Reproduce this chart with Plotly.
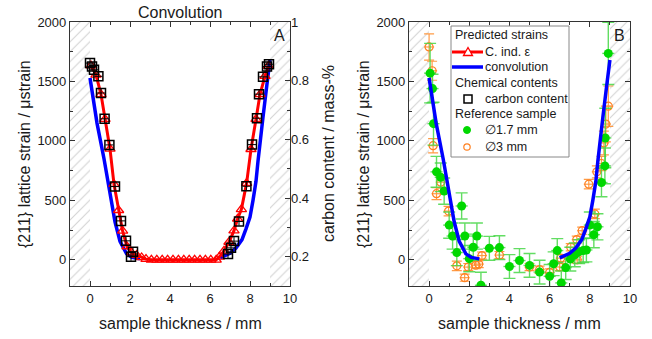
import plotly.graph_objects as go

# ---------------- data ----------------
# Predicted strains: carbon-induced strain (red triangles)
cind_x = [0.05, 0.3, 0.55, 0.75, 1.0, 1.2, 1.43, 1.63, 1.85, 2.08, 2.33, 2.58, 2.8,
          3.07, 3.34, 3.61, 3.88, 4.15, 4.42, 4.69, 4.96, 5.23, 5.5, 5.77, 6.04, 6.31,
          6.47, 6.7, 6.95, 7.2, 7.38, 7.57, 7.83, 8.05, 8.3, 8.5, 8.75, 8.92]
cind_y = [1633, 1555, 1392, 1183, 933, 636, 417, 243, 112, 60, 40, 20, 6,
          0, 0, 0, 0, 0, 0, 0, 0, 0, 0, 0, 0, 0,
          25, 75, 150, 245, 345, 425, 645, 930, 1183, 1392, 1545, 1630]

# Predicted strains: convolution (blue line, two branches)
conv_x = [0.0, 0.35, 0.7, 1.0, 1.25, 1.5, 1.83, 2.1, 2.5, None,
          6.5, 7.0, 7.3, 7.6, 7.8, 8.0, 8.15, 8.3, 8.4, 8.5, 8.65, 8.85, 9.0]
conv_y = [1530, 1150, 850, 580, 320, 155, 50, 20, 8, None,
          17, 55, 100, 170, 260, 360, 500, 660, 830, 960, 1200, 1480, 1680]

# Chemical contents: carbon content (mass-%)
carbon_x = [0.0, 0.1, 0.2, 0.42, 0.55, 0.73, 0.97, 1.25, 1.55, 1.8, 2.05, 2.15,
            6.9, 7.05, 7.2, 7.45, 7.82, 8.1, 8.35, 8.45, 8.65, 8.85, 8.95]
carbon_c = [0.860, 0.848, 0.837, 0.815, 0.758, 0.670, 0.581, 0.439, 0.322, 0.254, 0.200, 0.217,
            0.209, 0.230, 0.253, 0.320, 0.440, 0.582, 0.672, 0.754, 0.813, 0.848, 0.856]

# Reference sample, 1.7 mm gauge
g_x = [0.05, 0.17, 0.22, 0.37, 0.58, 0.75, 1.0, 1.17, 1.38, 1.62, 1.78, 2.0, 2.2, 2.38,
       2.58, 3.0, 3.5, 4.0, 4.5, 5.0, 5.5, 6.0, 6.2, 6.38, 6.58, 6.8, 7.03, 7.25, 7.47,
       7.67, 7.83, 8.0, 8.2, 8.38, 8.58, 8.75, 8.77, 8.92]
g_y = [1570, 1440, 1145, 740, 694, 578, 292, 200, 61, 453, 200, 10, 106, 200,
       -214, 97, 103, -56, -6, -47, -103, -139, -33, 78, -194, -65, 6, 42, 69,
       78, 83, 292, 212, 278, 650, 790, 1025, 1736]
g_err = [250, 120, 180, 130, 120, 110, 110, 110, 110, 110, 110, 110, 110, 110,
         110, 100, 100, 100, 100, 100, 100, 100, 100, 100, 100, 100, 100, 100, 100,
         100, 100, 110, 110, 110, 120, 150, 250, 262]

# Reference sample, 3 mm gauge
o_x = [0.0, 0.15, 0.2, 0.37, 0.58, 0.97, 1.38, 1.77, 1.95, 2.33, 2.47, 2.63, 3.5,
       5.0, 5.5, 6.0, 6.5, 6.55, 7.05, 7.35, 7.37, 7.62, 7.95, 8.25, 8.35, 8.58, 8.7, 8.8, 8.92]
o_y = [1790, 1590, 960, 556, 653, 410, -50, -150, -61, -45, -36, 36, 40,
       -61, -83, -106, -60, 14, 106, 170, 0, 245, 636, 386, 740, 810, 983, 1142, 1292]
o_err = [110, 80, 60, 50, 50, 40, 40, 30, 30, 30, 30, 30, 30,
         30, 30, 30, 30, 30, 30, 30, 30, 30, 40, 40, 50, 60, 100, 150, 170]

# axis ticks
x_ticks = [0, 2, 4, 6, 8, 10]
y_ticks = [0, 500, 1000, 1500, 2000]
c_ticks = [0.2, 0.4, 0.6, 0.8, 1.0]
c_ticktext = ["0.2", "0.4", "0.6", "0.8", "1"]

# legend texts
legend_rows = [
    ("title", "Predicted strains"),
    ("cind", "C. ind. ε"),
    ("conv", "convolution"),
    ("title", "Chemical contents"),
    ("carbon", "carbon content"),
    ("title", "Reference sample"),
    ("g", "∅1.7 mm"),
    ("o", "∅3 mm"),
]

# layout constants
X_RANGE = [-1, 10]
Y_RANGE = [-220, 2000]
C_RANGE = [0.1, 1.0]
HATCH_X = [-0.5, 9.5]   # centres of the shaded (outside-sample) zones, width 1 mm

FONT = "Arial, Liberation Sans, sans-serif"
TXT = "#1a1a1a"
RED = "#ff0000"
BLUE = "#0000ff"
GREEN = "#00d800"
GREEN_ERR = "rgba(70,215,70,0.85)"
ORANGE = "#ff8020"
ORANGE_ERR = "rgba(255,150,60,0.95)"

fig = go.Figure()

# hatched zones
for xa, ya in (("x", "y"), ("x2", "y3")):
    fig.add_trace(go.Bar(
        x=HATCH_X, y=[Y_RANGE[1] - Y_RANGE[0]] * 2, base=[Y_RANGE[0]] * 2, width=1.0,
        xaxis=xa, yaxis=ya, showlegend=False, hoverinfo="skip",
        marker=dict(color="white", line=dict(width=0),
                    pattern=dict(shape="/", fgcolor="#a8a8a8", bgcolor="white",
                                 size=7, solidity=0.16))))

# ---- left panel ----
fig.add_trace(go.Scatter(
    x=conv_x, y=conv_y, mode="lines", name="convolution",
    line=dict(color=BLUE, width=3.5), xaxis="x", yaxis="y", showlegend=False))

fig.add_trace(go.Scatter(
    x=carbon_x, y=carbon_c, mode="markers", name="carbon content",
    marker=dict(symbol="square-open", size=9, color="black", line=dict(width=1.5)),
    error_x=dict(type="constant", value=0.2, thickness=1, width=0, color="black"),
    error_y=dict(type="constant", value=0.014, thickness=1, width=0, color="black"),
    xaxis="x", yaxis="y2", showlegend=False))

fig.add_trace(go.Scatter(
    x=cind_x, y=cind_y, mode="lines+markers", name="C. ind. ε",
    line=dict(color=RED, width=3),
    marker=dict(symbol="triangle-up-open", size=9, color=RED, line=dict(width=1.3)),
    xaxis="x", yaxis="y", showlegend=False))

# ---- right panel ----
fig.add_trace(go.Scatter(
    x=o_x, y=o_y, mode="markers", name="∅3 mm",
    marker=dict(symbol="circle-open", size=8, color=ORANGE, line=dict(width=1.2)),
    error_y=dict(type="data", array=o_err, thickness=1.2, width=5, color=ORANGE_ERR),
    error_x=dict(type="constant", value=0.25, thickness=1.2, width=0, color=ORANGE_ERR),
    xaxis="x2", yaxis="y3", showlegend=False))

fig.add_trace(go.Scatter(
    x=g_x, y=g_y, mode="markers", name="∅1.7 mm",
    marker=dict(symbol="circle", size=9, color=GREEN),
    error_y=dict(type="data", array=g_err, thickness=1.4, width=6, color=GREEN_ERR),
    error_x=dict(type="constant", value=0.3, thickness=1.4, width=0, color=GREEN_ERR),
    xaxis="x2", yaxis="y3", showlegend=False))

fig.add_trace(go.Scatter(
    x=conv_x, y=conv_y, mode="lines", name="convolution",
    line=dict(color=BLUE, width=3.5), xaxis="x2", yaxis="y3", showlegend=False))

W, H = 652, 339
L1, R1 = 70, 290
L2, R2 = 409, 630
TOP, BOT = 22, 286

def px(v):
    return v / W

def py(v):
    return (H - v) / H

tickfont = dict(family=FONT, size=13, color=TXT)
common_x = dict(range=X_RANGE, tickvals=x_ticks, ticks="inside", ticklen=5,
                showline=True, linecolor="#333", linewidth=1.2, mirror="ticks",
                showgrid=False, zeroline=False, tickfont=tickfont, tickcolor="#333",
                automargin=False,
                minor=dict(ticks="inside", dtick=1, ticklen=3, tickcolor="#333"))
common_y = dict(range=Y_RANGE, tickvals=y_ticks, ticks="inside", ticklen=5,
                showline=True, linecolor="#333", linewidth=1.2,
                showgrid=False, zeroline=False, tickfont=tickfont, tickcolor="#333",
                automargin=False,
                minor=dict(ticks="inside", tickvals=[-250, 250, 750, 1250, 1750],
                           ticklen=3, tickcolor="#333"))

# ---- hand-drawn legend (box, keys, texts) in paper/pixel space ----
LEG_L, LEG_R, LEG_T, LEG_B = 451, 569, 26, 157
ROW_Y = [35, 52, 67, 83, 99, 114, 130, 147]
KEY_X0, KEY_X1, KEY_C = 452, 483, 468
TITLE_X, ITEM_X = 453, 483

shapes = [dict(type="rect", xref="paper", yref="paper", x0=px(LEG_L), x1=px(LEG_R),
               y0=py(LEG_B), y1=py(LEG_T), line=dict(color="#888", width=1),
               fillcolor="white", layer="above")]
annotations = []
for (kind, label), ry in zip(legend_rows, ROW_Y):
    is_title = kind == "title"
    annotations.append(dict(text=label, x=px(TITLE_X if is_title else ITEM_X), y=py(ry),
                            xref="paper", yref="paper", showarrow=False, xanchor="left",
                            yanchor="middle", font=dict(size=12.5, color=TXT)))
    if kind in ("cind", "conv"):
        shapes.append(dict(type="line", xref="paper", yref="paper", x0=px(KEY_X0), x1=px(KEY_X1),
                           y0=py(ry), y1=py(ry), layer="above",
                           line=dict(color=RED if kind == "cind" else BLUE,
                                     width=3 if kind == "cind" else 3.5)))
    if kind == "cind":
        shapes.append(dict(type="path", xref="paper", yref="paper", xsizemode="pixel",
                           ysizemode="pixel", xanchor=px(KEY_C), yanchor=py(ry),
                           path="M-4.5,-3.5 L4.5,-3.5 L0,4.5 Z", fillcolor="white",
                           line=dict(color=RED, width=1.3), layer="above"))
    if kind == "carbon":
        shapes.append(dict(type="rect", xref="paper", yref="paper", xsizemode="pixel",
                           ysizemode="pixel", xanchor=px(KEY_C), yanchor=py(ry),
                           x0=-4, x1=4, y0=-4, y1=4, line=dict(color="black", width=1.5),
                           layer="above"))
    if kind == "g":
        shapes.append(dict(type="circle", xref="paper", yref="paper", xsizemode="pixel",
                           ysizemode="pixel", xanchor=px(KEY_C - 1), yanchor=py(ry),
                           x0=-3.5, x1=3.5, y0=-3.5, y1=3.5, fillcolor=GREEN,
                           line=dict(color=GREEN, width=1), layer="above"))
    if kind == "o":
        shapes.append(dict(type="circle", xref="paper", yref="paper", xsizemode="pixel",
                           ysizemode="pixel", xanchor=px(KEY_C - 1), yanchor=py(ry),
                           x0=-3.2, x1=3.2, y0=-3.2, y1=3.2, fillcolor="white",
                           line=dict(color=ORANGE, width=1.2), layer="above"))

annotations += [
    dict(text="Convolution", x=px((L1 + R1) / 2), y=py(12), xref="paper", yref="paper",
         showarrow=False, font=dict(size=16), xanchor="center", yanchor="middle"),
    dict(text="A", x=px(287), y=py(35), xref="paper", yref="paper", showarrow=False,
         font=dict(size=16), xanchor="right", yanchor="middle"),
    dict(text="B", x=px(627), y=py(35), xref="paper", yref="paper", showarrow=False,
         font=dict(size=16), xanchor="right", yanchor="middle"),
    dict(text="sample thickness / mm", x=px((L1 + R1) / 2), y=py(323), xref="paper",
         yref="paper", showarrow=False, font=dict(size=16), xanchor="center", yanchor="middle"),
    dict(text="sample thickness / mm", x=px((L2 + R2) / 2), y=py(323), xref="paper",
         yref="paper", showarrow=False, font=dict(size=16), xanchor="center", yanchor="middle"),
    dict(text="{211} lattice strain / μstrain", x=px(24), y=py((TOP + BOT) / 2),
         xref="paper", yref="paper", showarrow=False, textangle=-90,
         font=dict(size=16), xanchor="center", yanchor="middle"),
    dict(text="carbon content / mass-%", x=px(328), y=py((TOP + BOT) / 2),
         xref="paper", yref="paper", showarrow=False, textangle=-90,
         font=dict(size=16), xanchor="center", yanchor="middle"),
    dict(text="{211} lattice strain / μstrain", x=px(363), y=py((TOP + BOT) / 2),
         xref="paper", yref="paper", showarrow=False, textangle=-90,
         font=dict(size=16), xanchor="center", yanchor="middle"),
]

fig.update_layout(
    width=W, height=H, margin=dict(l=0, r=0, t=0, b=0, pad=0, autoexpand=False),
    paper_bgcolor="white", plot_bgcolor="white",
    font=dict(family=FONT, size=13, color=TXT),
    barmode="overlay", bargap=0, showlegend=False,
    xaxis=dict(common_x, domain=[px(L1), px(R1)], anchor="y"),
    yaxis=dict(common_y, domain=[py(BOT), py(TOP)], anchor="x", mirror=True),
    yaxis2=dict(range=C_RANGE, tickvals=c_ticks, ticktext=c_ticktext, overlaying="y",
                side="right", anchor="x", ticks="inside", ticklen=5, showgrid=False,
                zeroline=False, showline=False, tickfont=tickfont, tickcolor="#333",
                automargin=False,
                minor=dict(ticks="inside", tickvals=[0.1, 0.3, 0.5, 0.7, 0.9],
                           ticklen=3, tickcolor="#333")),
    xaxis2=dict(common_x, domain=[px(L2), px(R2)], anchor="y3"),
    yaxis3=dict(common_y, domain=[py(BOT), py(TOP)], anchor="x2", mirror="ticks"),
    shapes=shapes,
    annotations=annotations,
)

fig.write_html(
    "out.html",
    config={"displayModeBar": False},
    post_script="document.body.style.margin='0';"
                "document.documentElement.style.overflow='hidden';"
                "document.body.style.overflow='hidden';",
)
